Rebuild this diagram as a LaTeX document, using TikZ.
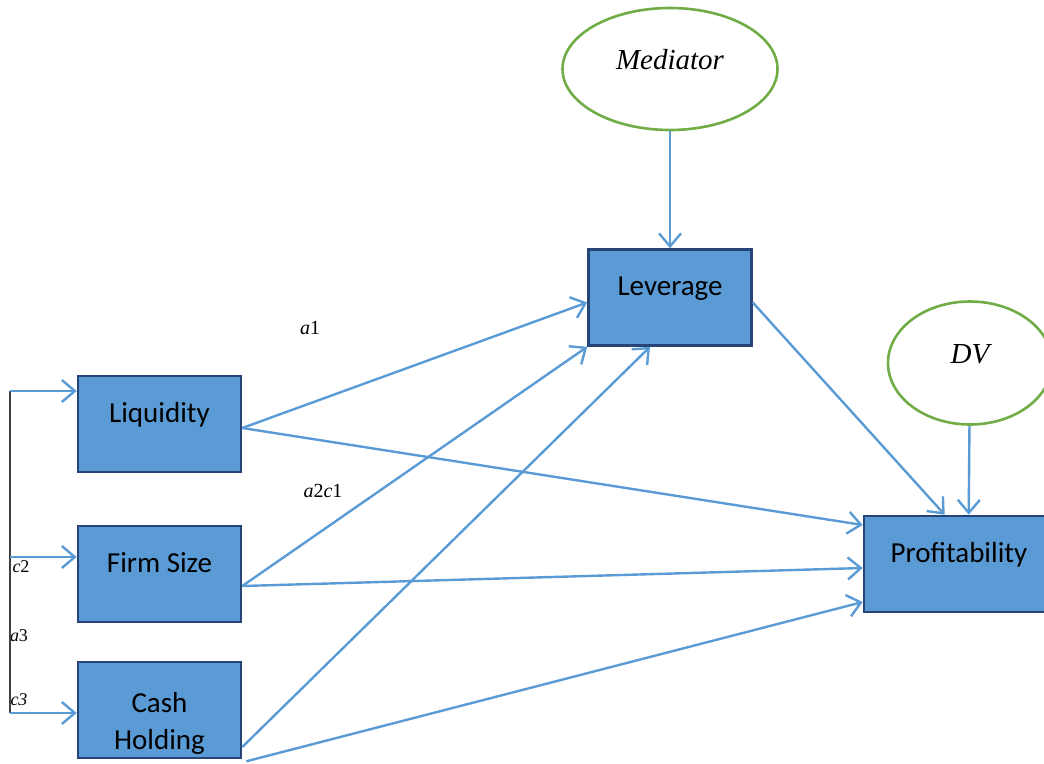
\documentclass[tikz,border=0pt]{standalone}
\usepackage{fontspec}
\setmainfont{Carlito}
\newfontfamily\timesfont{Liberation Serif}
\usetikzlibrary{
    arrows.meta,
    positioning,
    shapes.geometric
}
\definecolor{boxfill}{RGB}{91,155,213}
\definecolor{boxline}{RGB}{38,68,120}
\definecolor{pathblue}{RGB}{91,155,213}
\definecolor{ovalgreen}{RGB}{112,173,71}

\begin{document}
\begin{tikzpicture}[x=1pt, y=-1pt,
    varbox/.style={draw=boxline, line width=2.6pt, fill=boxfill, minimum width=163pt,
        minimum height=96pt, inner sep=0pt, align=center,
        font=\fontsize{29}{37}\selectfont},
    onerow/.style={text height=20pt, text depth=24pt},
    latent/.style={ellipse, draw=ovalgreen, line width=2.6pt, fill=white, inner sep=0pt,
        text height=20pt, text depth=20pt,
        font=\timesfont\itshape\fontsize{29}{35}\selectfont},
    coef/.style={inner sep=0pt, font=\timesfont\fontsize{20}{24}\selectfont},
    tapcoef/.style={inner sep=0pt, font=\timesfont\fontsize{18}{20}\selectfont},
    path/.style={draw=pathblue, line width=2.4pt, -{Straight Barb[length=13pt,width=22pt]}}
]
    % Frame
    \useasboundingbox (0,0) rectangle (1044,763);

    % Latent ovals
    \node[latent, minimum width=215pt, minimum height=122pt] (mediator) at (670,69) {Mediator};
    \node[latent, minimum width=164pt, minimum height=123pt] (dv) at (970,363) {DV};

    % Variables
    \node[varbox, onerow] (lev) at (670,297.5) {Leverage};
    \node[varbox, onerow] (liq) at (159.5,424) {Liquidity};
    \node[varbox, onerow] (firm) at (159.5,574) {Firm Size};
    \node[varbox] (cash) at (159.5,710) {\rule{0pt}{47pt}Cash\\Holding};
    \node[varbox, onerow, minimum width=190pt] (prof) at (959,564) {Profitability};

    % Coefficient labels
    \node[coef] (a1) at (310,328) {{\itshape a}1};
    \node[coef] (a2c1) at (323,491) {{\itshape a}2{\itshape c}1};
    \node[tapcoef] (c2) at (21,567) {{\itshape c}2};
    \node[tapcoef] (a3) at (19,636) {{\itshape a}3};
    \node[tapcoef] (c3) at (19,700) {\itshape c3};

    % Left bracket
    \coordinate (taptop) at (10,391);
    \coordinate (tapfirm) at (10,557);
    \coordinate (tapcash) at (10,713);
    \draw[black!75, line width=1.6pt] (taptop) -- (tapcash);
    \draw[path] (taptop) -- ([yshift=33pt]liq.west);
    \draw[path] (tapfirm) -- ([yshift=17pt]firm.west);
    \draw[path] (tapcash) -- ([yshift=-3pt]cash.west);

    % Paths to the mediator
    \draw[path] (mediator) -- (lev.north);
    \draw[path] ([yshift=-4pt]liq.east) -- ([yshift=-5pt]lev.west);
    \draw[path] ([yshift=-12pt]firm.east) -- (lev.south west);
    \draw[path] ([yshift=-37pt]cash.east) -- ([xshift=-20pt]lev.south);

    % Paths to the outcome
    \draw[path] ([yshift=-5pt]lev.east) -- ([xshift=82pt]prof.north west);
    \draw[path] (dv) -- ([xshift=106pt]prof.north west);
    \draw[path] ([yshift=-4pt]liq.east) -- ([yshift=39pt]prof.west);
    \draw[path] ([yshift=-12pt]firm.east) -- ([yshift=-4pt]prof.west);
    \draw[path] ([xshift=4pt,yshift=-2pt]cash.south east) -- ([yshift=-38pt]prof.west);
\end{tikzpicture}
\end{document}
